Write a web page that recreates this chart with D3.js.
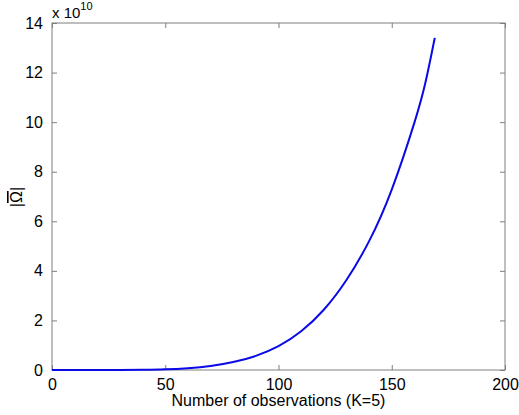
<!DOCTYPE html>
<html><head><meta charset="utf-8">
<script src="https://cdn.jsdelivr.net/npm/d3@7/dist/d3.min.js"></script>
<style>body{margin:0;background:#fff}svg{display:block}text{font-family:"Liberation Sans",Arial,sans-serif;fill:#000}</style>
</head><body><svg id="c" width="519" height="415"></svg>
<script>
const nObs = [0, 10, 20, 30, 40, 50, 60, 70, 80, 90, 100, 110, 120, 130, 140, 150, 160, 165, 169];
const omegaDet = [0, 0, 0, 0, 0.01, 0.03, 0.075, 0.16, 0.32, 0.57, 0.96, 1.56, 2.43, 3.63, 5.2, 7.28, 9.98, 11.65, 13.4];
const xTicks = [0, 50, 100, 150, 200];
const yTicks = [0, 2, 4, 6, 8, 10, 12, 14];

const svg = d3.select("#c");
const L = 52, R = 505, T = 23, B = 370;
const x = d3.scaleLinear().domain([0, 200]).range([L, R]);
const y = d3.scaleLinear().domain([0, 14]).range([B, T]);
const axisCol = "#7f7f7f";

function style(g){ g.select(".domain").remove(); g.selectAll(".tick line").attr("stroke", axisCol); }

svg.append("g").attr("transform", `translate(0,${B})`)
  .call(d3.axisBottom(x).tickValues(xTicks).tickSize(-5).tickPadding(9)).call(style)
  .call(g => g.selectAll("text").attr("font-size", 16).attr("font-family", "Liberation Sans, Arial, sans-serif").attr("fill", "#000"));
svg.append("g").attr("transform", `translate(0,${T})`)
  .call(d3.axisTop(x).tickValues(xTicks).tickSize(-5).tickFormat("")).call(style);
svg.append("g").attr("transform", `translate(${L},0)`)
  .call(d3.axisLeft(y).tickValues(yTicks).tickSize(-5).tickPadding(9)).call(style)
  .call(g => g.selectAll("text").attr("font-size", 16).attr("font-family", "Liberation Sans, Arial, sans-serif").attr("fill", "#000"));
svg.append("g").attr("transform", `translate(${R},0)`)
  .call(d3.axisRight(y).tickValues(yTicks).tickSize(-5).tickFormat("")).call(style);

svg.append("rect").attr("x", L).attr("y", T).attr("width", R - L).attr("height", B - T)
  .attr("fill", "none").attr("stroke", axisCol).attr("stroke-width", 1);

const data = nObs.map((n, i) => [n, omegaDet[i]]);
svg.append("path").datum(data)
  .attr("fill", "none").attr("stroke", "#0a0ae6").attr("stroke-width", 2)
  .attr("d", d3.line().x(d => x(d[0])).y(d => y(d[1])).curve(d3.curveNatural));

svg.append("text").attr("x", (L + R) / 2).attr("y", 406).attr("text-anchor", "middle")
  .attr("font-size", 16).text("Number of observations (K=5)");

const yl = svg.append("text").attr("transform", "translate(22,197) rotate(-90)").attr("text-anchor", "middle")
  .attr("font-size", 16);
yl.append("tspan").text("|");
yl.append("tspan").attr("text-decoration", "overline").style("text-decoration", "overline").text("\u03A9");
yl.append("tspan").text("|");

const ex = svg.append("text").attr("x", 52).attr("y", 18).attr("font-size", 15);
ex.append("tspan").text("x 10");
ex.append("tspan").attr("dy", -8).attr("font-size", 11).text("10");
</script></body></html>
